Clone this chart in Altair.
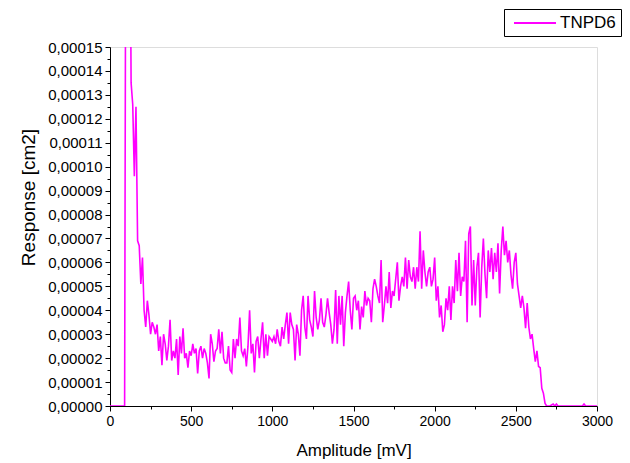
import altair as alt
import pandas as pd

# Amplitude sampling (mV) and response values (units of 1e-5 cm2)
amplitude = list(range(0, 3010, 10))
response_e5 = [
    0, 0, 0, 0, 0, 0, 0, 0, 0, 0,
    30, 32, 25, 13.5, 12.6, 9.6, 12.5, 6.9, 6.7, 5.1,
    6.2, 4.0, 3.3, 4.4, 3.8, 3.0, 3.5, 3.3, 3.0, 3.4,
    2.3, 2.9, 1.7, 3.0, 2.6, 1.9, 2.5, 3.6, 1.9, 2.3,
    2.0, 2.8, 1.3, 2.9, 2.2, 3.25, 2.0, 2.2, 1.6, 2.3,
    2.1, 2.6, 2.2, 2.4, 1.36, 2.3, 2.5, 2.0, 2.4, 2.2,
    1.8, 1.15, 3.0, 2.6, 1.85, 2.3, 2.4, 3.2, 2.2, 3.1,
    2.0, 1.8, 1.8, 2.5, 1.5, 1.4, 2.8, 2.0, 2.8, 2.5,
    3.7, 2.3, 2.1, 2.4, 1.65, 2.5, 4.0, 2.2, 2.6, 1.4,
    2.7, 2.9, 2.0, 2.8, 3.5, 2.0, 3.0, 2.1, 2.9, 2.8,
    2.7, 2.9, 2.6, 3.2, 2.7, 2.5, 3.3, 2.8, 3.4, 3.9,
    2.6, 3.9, 3.4, 3.2, 1.9, 3.4, 3.0, 2.1, 4.0, 4.6,
    3.3, 2.8, 4.6, 3.6, 3.3, 2.9, 4.8, 3.7, 3.2, 3.6,
    4.5, 3.5, 3.3, 3.8, 4.5, 3.9, 3.4, 2.6, 3.2, 4.85,
    2.6, 4.6, 3.4, 4.6, 2.5, 3.9, 4.6, 5.2, 4.0, 3.2,
    4.5, 4.6, 4.0, 4.4, 3.2, 4.15, 3.7, 4.8, 4.2, 4.5,
    4.4, 3.5, 4.9, 5.3, 5.0, 4.6, 4.3, 6.1, 3.5, 4.2,
    5.0, 4.3, 5.6, 4.1, 4.8, 4.6, 5.3, 6.0, 4.4, 5.0,
    5.4, 5.0, 6.2, 4.9, 6.1, 5.4, 5.2, 5.8, 4.9, 5.8,
    5.2, 7.3, 4.9, 6.5, 5.6, 5.0, 5.6, 5.8, 5.0, 5.3,
    6.2, 4.4, 5.0, 3.7, 4.2, 3.1, 3.4, 4.5, 4.0, 5.0,
    3.6, 5.0, 4.3, 6.1, 4.8, 6.4, 4.6, 5.4, 5.2, 6.9,
    3.5, 7.2, 7.5, 4.2, 6.1, 4.2, 5.8, 6.4, 3.7, 5.8,
    7.0, 5.5, 4.5, 6.5, 5.6, 6.6, 5.3, 6.4, 5.6, 6.8,
    4.7, 6.5, 7.5, 6.3, 6.9, 6.0, 6.5, 5.5, 4.9, 6.0,
    6.4, 5.1, 4.6, 4.1, 4.6, 4.1, 3.25, 4.3, 3.3, 2.8,
    3.0, 2.4, 1.85, 2.3, 1.65, 1.6, 0.74, 0.53, 0.11, 0,
    0, 0, 0.04, 0.08, 0, 0.08, 0, 0, 0, 0,
    0, 0, 0, 0, 0, 0, 0, 0, 0, 0,
    0, 0, 0.08, 0, 0, 0, 0, 0, 0, 0,
    0,
]
series_name = "TNPD6"

x_ticks = [0, 250, 500, 750, 1000, 1250, 1500, 1750, 2000, 2250, 2500, 2750, 3000]
y_ticks = [round(k * 0.000005, 7) for k in range(31)]

df = pd.DataFrame({
    "Amplitude": amplitude,
    "Response": [v * 1e-5 for v in response_e5],
    "series": series_name,
})

FONT = "Liberation Sans"

chart = alt.Chart(df).mark_line(clip=True, strokeWidth=1.6).encode(
    x=alt.X(
        "Amplitude:Q",
        scale=alt.Scale(domain=[0, 3000], nice=False, zero=False),
        axis=alt.Axis(
            title="Amplitude [mV]",
            values=x_ticks,
            labelExpr="datum.value % 500 === 0 ? format(datum.value, 'd') : ''",
            tickSize={"condition": {"test": "datum.value % 500 === 0", "value": 5}, "value": 3},
            labelFlush=False,
            labelOverlap=False,
            grid=False,
            domainColor="black",
            tickColor="black",
            labelColor="black",
            titleColor="black",
            labelFont=FONT,
            titleFont=FONT,
            labelFontSize=14,
            titleFontSize=17,
            titleFontWeight="normal",
            labelPadding=3,
            titlePadding=14,
        ),
    ),
    y=alt.Y(
        "Response:Q",
        scale=alt.Scale(domain=[0, 0.00015], nice=False),
        axis=alt.Axis(
            title="Response [cm2]",
            values=y_ticks,
            labelExpr="round(datum.value*200000) % 2 === 0 ? replace(format(datum.value, '.5f'), '.', ',') : ''",
            tickSize={"condition": {"test": "round(datum.value*200000) % 2 === 0", "value": 5}, "value": 3},
            labelOverlap=False,
            labelBound=False,
            grid=False,
            domainColor="black",
            tickColor="black",
            labelColor="black",
            titleColor="black",
            labelFont=FONT,
            titleFont=FONT,
            labelFontSize=15,
            titleFontSize=19,
            titleFontWeight="normal",
            labelPadding=3,
            titlePadding=9,
            titleY=150,
        ),
    ),
    color=alt.Color(
        "series:N",
        scale=alt.Scale(domain=[series_name], range=["#FF00FF"]),
        legend=alt.Legend(
            title=None,
            orient="none",
            legendX=394,
            legendY=-38,
            strokeColor="black",
            fillColor="white",
            padding=5,
            cornerRadius=0,
            symbolType="M-2.625,0H2.625",
            symbolSize=256,
            symbolStrokeWidth=2,
            symbolOffset=17,
            labelOffset=16,
            labelFont=FONT,
            labelFontSize=17,
            labelColor="black",
        ),
    ),
).properties(
    width=487,
    height=359,
    autosize="none",
    padding={"left": 110, "top": 47, "right": 33, "bottom": 57},
).configure_view(stroke=None).configure(background="white")

chart.save("out.html", embed_options={"renderer": "svg", "actions": False})
